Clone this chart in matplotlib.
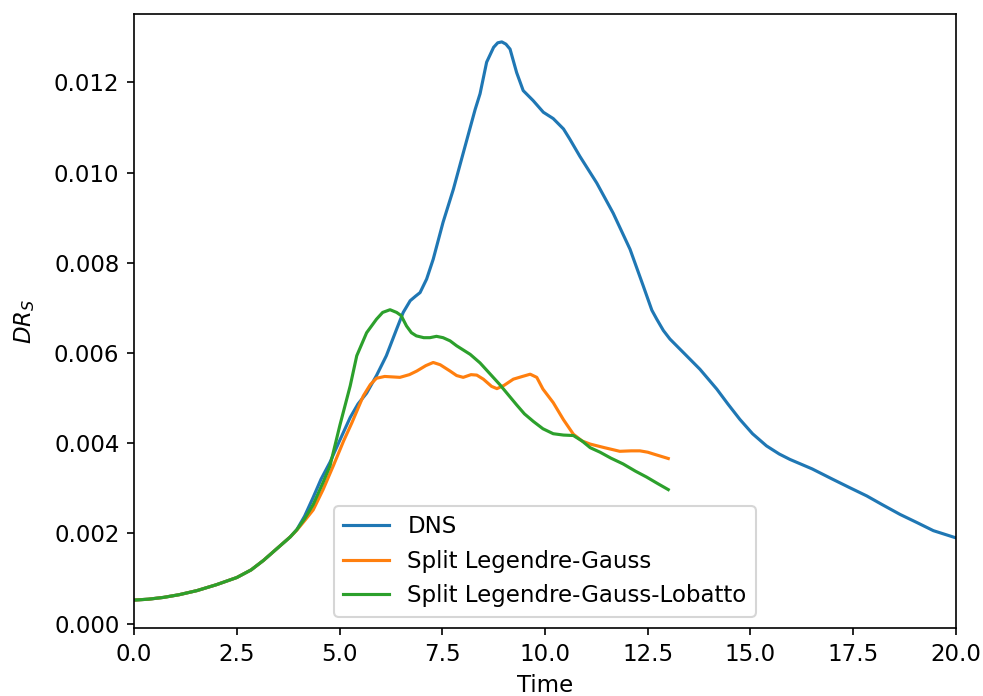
import numpy as np
import matplotlib
matplotlib.use("Agg")
import matplotlib.pyplot as plt

plt.rcParams['font.size'] = 11

# DNS reference
dns_t = [0.0, 0.35, 0.72, 1.1, 1.53, 2.0, 2.5, 2.85, 3.15, 3.55, 3.8, 3.96, 4.15, 4.36,
         4.55, 4.77, 5.0, 5.26, 5.45, 5.66, 5.9, 6.14, 6.39, 6.55, 6.72, 6.85, 6.96, 7.12,
         7.28, 7.52, 7.77, 8.0, 8.18, 8.3, 8.42, 8.58, 8.75, 8.85, 8.95, 9.05, 9.15, 9.31,
         9.47, 9.71, 9.96, 10.2, 10.45, 10.6, 10.85, 11.26, 11.66, 12.07, 12.39, 12.6,
         12.72, 12.88, 13.04, 13.4, 13.77, 14.18, 14.45, 14.74, 15.05, 15.39, 15.7, 15.96,
         16.5, 17.0, 17.4, 17.83, 18.2, 18.64, 19.05, 19.45, 20.0]
dns_dr = [0.00052, 0.00054, 0.00058, 0.00064, 0.00073, 0.00086, 0.00102, 0.00119, 0.0014,
          0.00172, 0.00192, 0.00208, 0.00238, 0.0028, 0.0032, 0.00358, 0.00405, 0.00457,
          0.00487, 0.00511, 0.0055, 0.00594, 0.00653, 0.0069, 0.00716, 0.00726, 0.00734,
          0.00764, 0.00808, 0.0089, 0.00963, 0.0104, 0.011, 0.0114, 0.01175, 0.01245,
          0.01278, 0.01288, 0.0129, 0.01285, 0.01274, 0.01222, 0.01182, 0.0116, 0.01134,
          0.0112, 0.01097, 0.01075, 0.01036, 0.00977, 0.0091, 0.0083, 0.00749, 0.00695,
          0.00675, 0.0065, 0.00631, 0.00598, 0.00564, 0.0052, 0.00487, 0.00453, 0.00421,
          0.00394, 0.00376, 0.00364, 0.00343, 0.0032, 0.00302, 0.00283, 0.00264, 0.00242,
          0.00224, 0.00206, 0.0019]

# split Legendre-Gauss
lg_t = [0.0, 0.35, 0.72, 1.1, 1.53, 2.0, 2.5, 2.85, 3.15, 3.55, 3.8, 3.96, 4.15, 4.36,
        4.6, 4.85, 5.1, 5.3, 5.58, 5.75, 5.9, 6.1, 6.47, 6.7, 6.88, 7.1, 7.28, 7.45, 7.69,
        7.85, 8.01, 8.2, 8.34, 8.5, 8.7, 8.83, 9.0, 9.23, 9.45, 9.64, 9.8, 9.95, 10.2,
        10.45, 10.69, 10.9, 11.1, 11.45, 11.82, 12.1, 12.31, 12.5, 12.64, 12.82, 13.0]
lg_dr = [0.00052, 0.00054, 0.00058, 0.00064, 0.00073, 0.00086, 0.00102, 0.00119, 0.0014,
         0.00172, 0.00192, 0.00207, 0.00228, 0.00252, 0.00297, 0.0035, 0.00405, 0.00445,
         0.00505, 0.0053, 0.00544, 0.00548, 0.00546, 0.00552, 0.0056, 0.00572, 0.00579,
         0.00574, 0.0056, 0.0055, 0.00546, 0.00552, 0.00551, 0.00542, 0.00526, 0.00521,
         0.00528, 0.00542, 0.00548, 0.00553, 0.00546, 0.0052, 0.0049, 0.00452, 0.0042,
         0.00405, 0.00398, 0.0039, 0.00382, 0.00383, 0.00383, 0.0038, 0.00376, 0.00371,
         0.00366]

# split Legendre-Gauss-Lobatto
lgl_t = [0.0, 0.35, 0.72, 1.1, 1.53, 2.0, 2.5, 2.85, 3.15, 3.55, 3.8, 3.96, 4.15, 4.36,
         4.6, 4.77, 5.01, 5.26, 5.42, 5.66, 5.9, 6.05, 6.23, 6.39, 6.5, 6.63, 6.75, 6.87,
         7.05, 7.2, 7.36, 7.52, 7.69, 7.85, 8.18, 8.42, 8.6, 8.9, 9.1, 9.31, 9.5, 9.72,
         9.95, 10.2, 10.45, 10.69, 10.9, 11.1, 11.34, 11.6, 11.9, 12.2, 12.47, 12.75, 13.0]
lgl_dr = [0.00052, 0.00054, 0.00058, 0.00064, 0.00073, 0.00086, 0.00102, 0.00119, 0.0014,
          0.00172, 0.00192, 0.00208, 0.00232, 0.00264, 0.00313, 0.0035, 0.0044, 0.00527,
          0.00594, 0.00645, 0.00675, 0.0069, 0.00696, 0.0069, 0.00683, 0.0066, 0.00645,
          0.00638, 0.00634, 0.00634, 0.00637, 0.00634, 0.00627, 0.00616, 0.00597, 0.00578,
          0.0056, 0.0053, 0.00508, 0.00485, 0.00465, 0.00448, 0.00432, 0.00421, 0.00418,
          0.00417, 0.00405, 0.0039, 0.0038, 0.00367, 0.00354, 0.00338, 0.00325, 0.0031,
          0.00297]

fig = plt.figure(figsize=(6.56, 4.64), dpi=150)
ax = fig.add_axes([0.1362, 0.0977, 0.8353, 0.8822])

ax.plot(dns_t, dns_dr, label="DNS")
ax.plot(lg_t, lg_dr, label="Split Legendre-Gauss")
ax.plot(lgl_t, lgl_dr, label="Split Legendre-Gauss-Lobatto")

ax.set_xlim(0, 20)
ax.set_xlabel("Time")
ax.set_ylabel("$DR_S$", labelpad=8)
ax.legend(loc="lower center")

fig.savefig("out.png", dpi=150)
